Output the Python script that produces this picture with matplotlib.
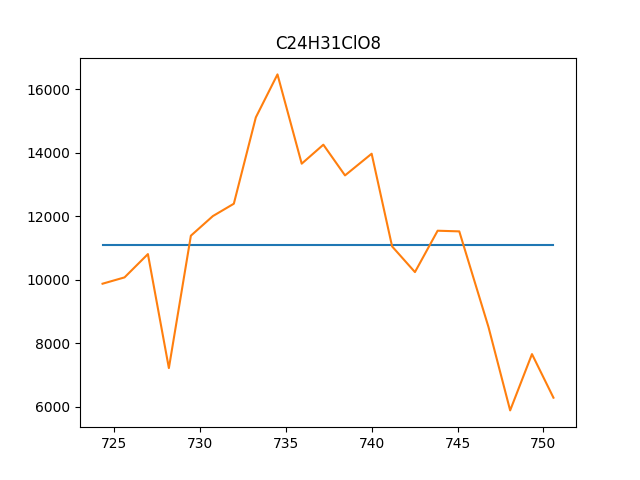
import matplotlib
matplotlib.use("Agg")
import matplotlib.pyplot as plt

# mass axis and intensities
mz = [724.34, 725.62, 726.98, 728.20, 729.48, 730.76, 731.98, 733.26, 734.52,
      735.93, 737.19, 738.45, 740.00, 741.19, 742.52, 743.84, 745.10, 746.80,
      748.06, 749.33, 750.58]
intensity = [9880, 10079, 10813, 7222, 11392, 12010, 12399, 15118, 16472,
             13660, 14258, 13291, 13974, 11055, 10246, 11549, 11528, 8514,
             5890, 7663, 6290]
mean_x = [724.34, 750.58]
mean_y = [11090, 11090]

fig, ax = plt.subplots(figsize=(6.4, 4.8), dpi=100)
ax.plot(mean_x, mean_y)
ax.plot(mz, intensity)
ax.set_title('C24H31ClO8')
fig.savefig('out.png')
